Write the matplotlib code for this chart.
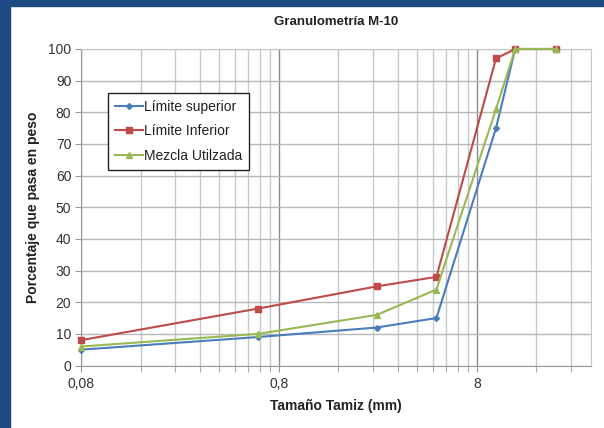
import matplotlib
matplotlib.use("Agg")
import matplotlib.pyplot as plt
from matplotlib.ticker import FixedLocator, NullFormatter
from matplotlib.patches import Rectangle
from matplotlib import font_manager

names = {f.name for f in font_manager.fontManager.ttflist}
fam = ['Liberation Sans Narrow', 'Liberation Sans', 'DejaVu Sans'] if 'Liberation Sans Narrow' in names else ['Liberation Sans', 'DejaVu Sans']
plt.rcParams['font.family'] = fam

# Data
tamiz = [0.08, 0.63, 2.5, 5, 10, 12.5, 20]
limite_superior = [5, 9, 12, 15, 75, 100, 100]
limite_inferior = [8, 18, 25, 28, 97, 100, 100]
mezcla = [6, 10, 16, 24, 81, 100, 100]
major_ticks = [0.08, 0.8, 8]
major_labels = ['0,08', '0,8', '8']
minor_ticks = [m * d for d in (0.08, 0.8, 8) for m in range(2, 10)]
yticks = list(range(0, 101, 10))

W, H = 604, 428
fig = plt.figure(figsize=(W / 100, H / 100), dpi=100)
fig.patch.set_facecolor('white')
navy = '#1d4a82'
fig.patches.append(Rectangle((0, 0), 10 / W, 1, transform=fig.transFigure, color=navy, zorder=0))
fig.patches.append(Rectangle((0, 1 - 6 / H), 1, 6 / H, transform=fig.transFigure, color=navy, zorder=0))

ax = fig.add_axes([81 / W, 1 - 365.5 / H, (591 - 81) / W, (365.5 - 49) / H])
ax.set_xscale('log')
ax.set_xlim(0.08, 30.2)
ax.set_ylim(0, 100)

ax.plot(tamiz, limite_superior, color='#4a7ebb', marker='D', markersize=3, lw=1.5, label='Límite superior', zorder=3, clip_on=False)
ax.plot(tamiz, limite_inferior, color='#be4b48', marker='s', markersize=5, lw=1.5, label='Límite Inferior', zorder=3, clip_on=False)
ax.plot(tamiz, mezcla, color='#98b954', marker='^', markersize=5, lw=1.5, label='Mezcla Utilzada', zorder=4, clip_on=False)

ax.xaxis.set_major_locator(FixedLocator(major_ticks))
ax.set_xticklabels(major_labels)
ax.xaxis.set_minor_locator(FixedLocator([t for t in minor_ticks if t <= 30.2]))
ax.xaxis.set_minor_formatter(NullFormatter())
ax.set_yticks(yticks)

ax.grid(True, which='major', axis='x', color='#8a8a8a', lw=1.0, zorder=0)
ax.grid(True, which='minor', axis='x', color='#c8c8c8', lw=1.0, zorder=0)
ax.grid(True, which='major', axis='y', color='#b8b8b8', lw=1.0, zorder=0)
ax.set_axisbelow(True)

for s in ['top', 'right']:
    ax.spines[s].set_color('#c8c8c8')
for s in ['left', 'bottom']:
    ax.spines[s].set_color('#9a9a9a')

ax.tick_params(axis='both', which='both', direction='out', colors='#9a9a9a', labelcolor='#333333', labelsize=10)
ax.tick_params(axis='x', which='major', length=4, pad=4)
ax.tick_params(axis='x', which='minor', length=4)
ax.tick_params(axis='y', length=4, pad=3)

ax.set_title('Granulometría M-10', fontsize=9.5, fontweight='bold', color='#222222', pad=17)
ax.set_xlabel('Tamaño Tamiz (mm)', fontsize=10, fontweight='bold', color='#222222', labelpad=6)
ax.set_ylabel('Porcentaje que pasa en peso', fontsize=10, fontweight='bold', color='#222222', labelpad=6)

leg = ax.legend(loc='upper left', bbox_to_anchor=(0.053, 0.861), fontsize=10, frameon=True,
                fancybox=False, edgecolor='#222222', framealpha=1, handlelength=2.0,
                borderpad=0.5, labelspacing=0.75, handletextpad=0.1, borderaxespad=0)
leg.get_frame().set_linewidth(1.0)
for t in leg.get_texts():
    t.set_color('#222222')

fig.savefig('out.png', dpi=100)
